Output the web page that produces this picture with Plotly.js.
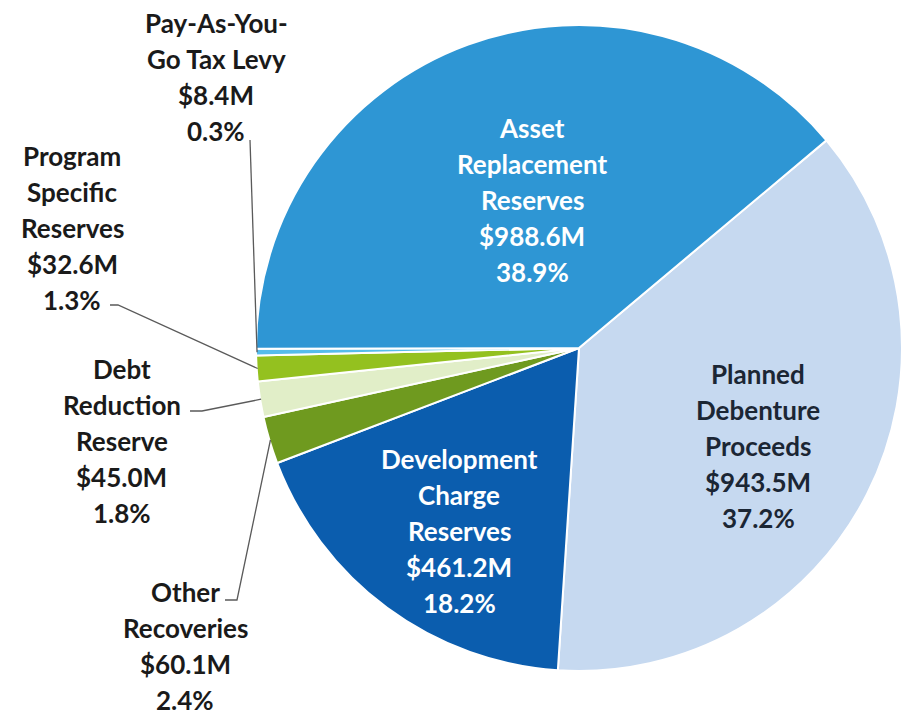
<!DOCTYPE html>
<html>
<head>
<meta charset="utf-8">
<script src="https://cdn.plot.ly/plotly-3.0.1.min.js"></script>
<style>html,body{margin:0;padding:0;background:#fff}#chart{width:913px;height:721px}</style>
</head>
<body>
<div id="chart"></div>
<script>
// ---- data ----
const categories = [
  "Planned<br>Debenture<br>Proceeds",
  "Development<br>Charge<br>Reserves",
  "Other<br>Recoveries",
  "Debt<br>Reduction<br>Reserve",
  "Program<br>Specific<br>Reserves",
  "Pay-As-You-<br>Go Tax Levy",
  "Asset<br>Replacement<br>Reserves"
];
const valuesM = [943.5, 461.2, 60.1, 45.0, 32.6, 8.4, 988.6];
const colors = ["#C6D9F0", "#0B5DAE", "#6F9A1F", "#E1EEC8", "#94C11F", "#56BCEB", "#2E96D4"];

// ---- layout config (pixels) ----
const W = 913, H = 721;
const CX = 579, CY = 348, R = 323, ROT = 50;
const LINE = 36;
// label block: centre x, first line y, text colour, leader elbow points (null = inside label)
const labelCfg = [
  {x: 758, y: 374, color: "#1B2634", leader: null},
  {x: 459, y: 459, color: "#FFFFFF", leader: null},
  {x: 185, y: 592, color: "#1A1A1A", leader: [[225, 600], [237, 600]]},
  {x: 122, y: 369, color: "#1A1A1A", leader: [[190, 411], [202, 411]]},
  {x: 72,  y: 156, color: "#1A1A1A", leader: [[110, 305], [118, 305]]},
  {x: 216, y: 23,  color: "#1A1A1A", leader: [[250, 140]]},
  {x: 532, y: 128, color: "#FFFFFF", leader: null}
];

const total = valuesM.reduce((a, b) => a + b, 0);
const px = v => v / W, py = v => 1 - v / H;

const annotations = [];
const shapes = [];
let cum = 0;
valuesM.forEach((v, i) => {
  const frac = v / total;
  const mid = (ROT + (cum + frac / 2) * 360) * Math.PI / 180;
  cum += frac;
  const lines = categories[i].split("<br>");
  lines.push("$" + v.toFixed(1) + "M");
  lines.push((frac * 100).toFixed(1) + "%");
  const cfg = labelCfg[i];
  lines.forEach((t, k) => {
    annotations.push({
      xref: "paper", yref: "paper",
      x: px(cfg.x), y: py(cfg.y + k * LINE),
      xanchor: "center", yanchor: "middle",
      text: "<b>" + t + "</b>", showarrow: false,
      font: {family: "Lato, 'Open Sans', sans-serif", size: 26, color: cfg.color}
    });
  });
  if (cfg.leader) {
    const ex = CX + (R - 1) * Math.sin(mid), ey = CY - (R - 1) * Math.cos(mid);
    const pts = cfg.leader.concat([[ex, ey]]);
    const path = pts.map((p, k) => (k ? "L" : "M") + px(p[0]).toFixed(5) + "," + py(p[1]).toFixed(5)).join(" ");
    shapes.push({type: "path", xref: "paper", yref: "paper", path: path,
      line: {color: "#5A5A5A", width: 1.3}});
  }
});

const trace = {
  type: "pie",
  labels: categories,
  values: valuesM,
  sort: false,
  direction: "clockwise",
  rotation: ROT,
  textinfo: "none",
  hoverinfo: "label+value+percent",
  marker: {colors: colors, line: {color: "#FFFFFF", width: 2}},
  domain: {x: [(CX - R) / W, (CX + R) / W], y: [(H - CY - R) / H, (H - CY + R) / H]},
  showlegend: false
};

const layout = {
  width: W, height: H,
  margin: {l: 0, r: 0, t: 0, b: 0},
  paper_bgcolor: "#FFFFFF",
  showlegend: false,
  annotations: annotations,
  shapes: shapes
};

Plotly.newPlot("chart", [trace], layout, {displayModeBar: false, staticPlot: true});
</script>
</body>
</html>
